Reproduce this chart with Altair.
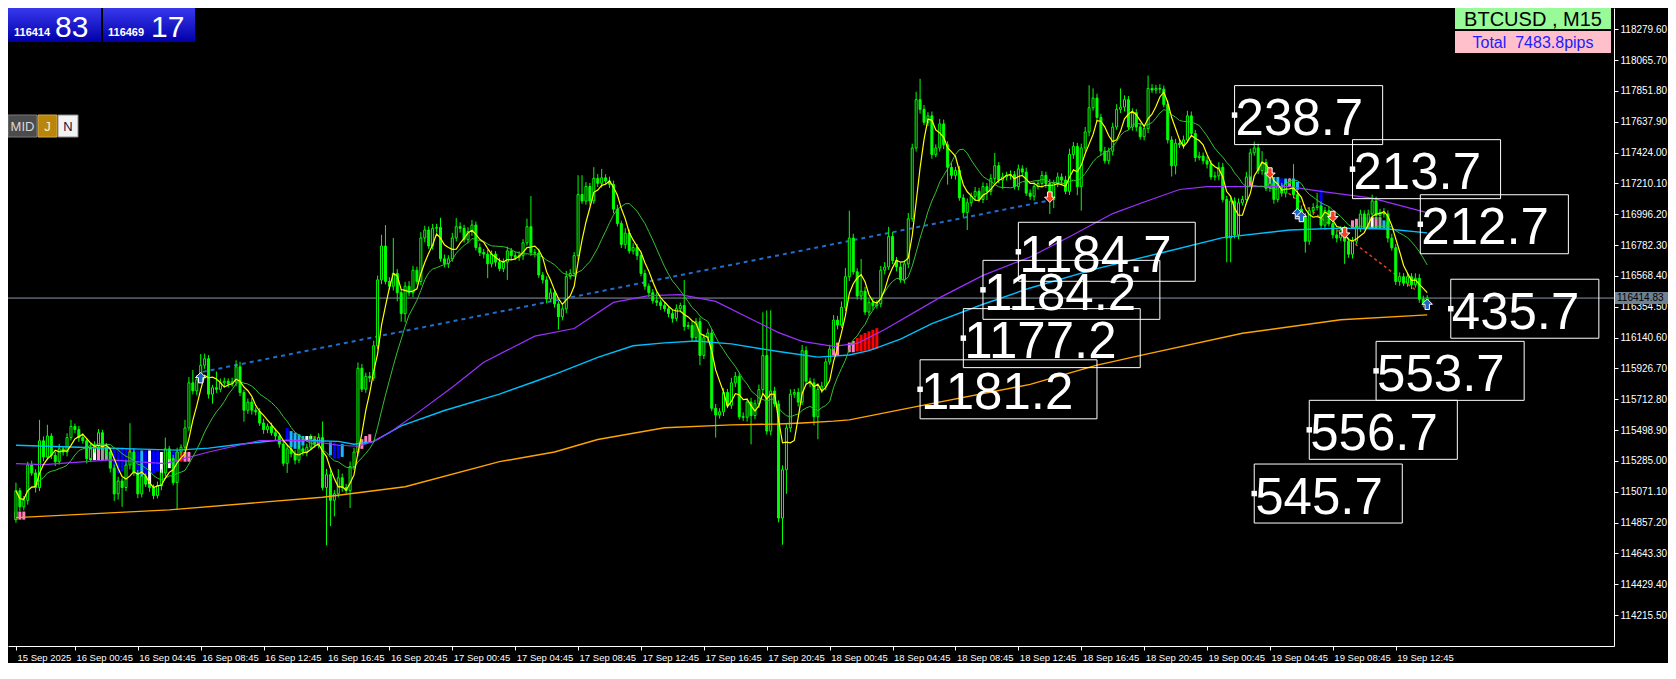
import altair as alt
import pandas as pd

# ---------------- data ----------------
first_open = 114878
closes = [
    115079,114967,115012,115257,115202,115101,115425,115313,115458,115324,115280,115369,115347,115447,115525,115503,115447,115425,115302,115369,
    115391,115481,115380,115347,115235,115057,115146,115101,115257,115347,115202,115057,115179,115124,115101,115045,115112,115202,115369,115302,
    115135,115347,115380,115514,115827,115771,115849,115949,115994,115748,115793,115782,115827,115838,115820,115833,115938,115760,115637,115693,
    115637,115626,115548,115503,115525,115481,115458,115402,115269,115369,115335,115291,115369,115347,115380,115436,115402,115447,115101,115190,
    115012,115057,115168,115101,115079,115246,115347,115928,115783,115872,115861,116084,116541,116776,116530,116497,116586,116452,116307,116497,
    116452,116608,116530,116832,116887,116776,116899,116905,116687,116653,116687,116832,116910,116899,116820,116876,116921,116765,116731,116720,
    116653,116720,116664,116620,116664,116742,116709,116698,116709,116798,116910,116731,116727,116575,116541,116408,116452,116374,116285,116340,
    116564,116586,116709,117133,117088,117189,117088,117245,117211,117249,117227,117204,117032,116932,116787,116865,116742,116765,116709,116586,
    116497,116452,116396,116385,116363,116341,116307,116274,116341,116363,116218,116225,116140,116251,116017,116140,116173,115650,115604,115626,
    115760,115671,115827,115872,115592,115588,115693,115600,115682,115780,116016,115492,115770,115680,114889,115224,115514,115748,115760,115693,
    116050,115838,115827,115592,115782,115804,115972,116061,116262,116228,116351,116563,116831,116597,116429,116463,116318,116385,116362,116375,
    116608,116630,116842,116675,116630,116541,116652,116965,117456,117791,117724,117634,117679,117411,117456,117623,117478,117322,117266,117300,
    117110,117009,117076,117121,117155,117099,117188,117155,117244,117333,117233,117255,117266,117271,117188,117311,117289,117143,117121,117188,
    117210,117266,117210,117099,117210,117255,117233,117155,117411,117467,117188,117456,117567,117735,117802,117668,117434,117367,117434,117601,
    117724,117739,117791,117601,117701,117601,117534,117590,117869,117858,117869,117864,117757,117512,117333,117489,117480,117512,117679,117556,
    117390,117400,117367,117344,117255,117262,117322,117099,116831,117088,116853,117076,117099,117255,117422,117456,117300,117355,117177,117210,
    117099,117188,117143,117210,117221,117132,117032,116976,116809,117021,117043,117054,116920,117021,116931,116853,116831,116887,116809,116719,
    116809,116898,116998,116920,116998,117088,116987,117009,116998,116831,116764,116530,116563,116518,116563,116507,116552,116407,116380,116414.83,
]
upper_wicks = [
    56,20,30,22,30,25,145,30,78,20,25,35,20,30,45,20,25,30,20,40,
    30,25,20,30,20,25,30,20,35,200,25,20,30,20,25,20,30,25,78,20,
    25,30,20,56,40,89,30,78,35,25,20,112,30,25,20,30,45,35,20,25,
    30,20,25,30,20,25,30,20,25,30,20,25,30,20,25,35,20,30,112,40,
    30,25,60,30,25,35,30,40,30,25,30,35,30,78,145,30,246,30,25,30,
    35,30,25,40,30,25,30,25,67,30,25,35,60,30,25,30,35,25,30,25,
    30,25,20,30,25,30,20,25,30,25,56,212,25,30,20,25,30,25,20,30,
    40,30,25,134,134,30,25,78,30,62,25,30,25,30,20,35,25,30,25,20,
    25,20,25,60,20,25,20,25,30,20,178,25,30,25,30,25,30,25,30,25,
    30,25,35,30,25,30,25,30,25,35,300,313,560,30,25,30,25,35,25,30,
    40,30,25,30,25,30,25,30,35,30,40,60,190,30,25,223,30,25,30,25,
    30,35,67,30,25,30,25,40,30,55,145,30,25,30,25,35,30,25,30,25,
    30,25,30,25,30,25,30,25,30,89,25,30,25,30,25,30,25,30,25,30,
    25,30,25,30,25,30,25,30,40,30,25,30,35,156,67,30,25,30,25,30,
    35,130,30,25,30,25,30,25,89,30,25,30,25,30,25,30,25,30,35,30,
    25,30,25,30,25,30,35,30,25,30,25,30,25,35,30,44,30,79,25,30,
    25,30,25,30,25,123,30,25,30,25,30,89,30,25,30,25,30,25,30,25,
    30,25,30,25,30,44,30,25,30,25,30,25,30,25,30,25,35,30,25,20,
]
lower_wicks = [
    22,30,25,30,20,35,25,30,20,25,30,20,25,30,20,25,30,20,35,25,
    25,30,20,25,30,50,40,134,25,30,20,30,25,20,30,25,20,30,25,30,
    20,190,25,30,20,25,30,20,25,30,66,25,20,30,25,20,30,25,80,25,
    30,25,20,30,25,20,30,25,20,67,25,30,20,25,30,20,25,30,20,401,
    179,112,25,30,20,120,25,30,20,25,30,20,25,30,20,25,30,60,56,60,
    25,30,20,25,30,20,25,30,20,25,30,20,25,30,20,25,30,20,25,30,
    100,25,30,20,25,123,30,20,25,30,20,25,30,20,25,30,20,25,89,25,
    30,20,25,30,20,25,30,20,25,30,20,25,30,20,25,30,20,25,30,20,
    25,30,20,25,30,20,25,30,20,25,30,20,25,30,67,25,30,20,157,25,
    30,20,25,30,20,25,30,200,25,30,20,25,30,20,30,185,167,30,25,30,
    20,25,30,60,156,25,30,20,25,30,20,25,30,20,25,30,20,25,30,20,
    25,30,20,25,30,20,25,30,20,25,30,20,25,30,20,25,30,120,25,30,
    20,33,122,25,30,20,25,60,25,30,20,60,25,30,20,25,30,20,25,30,
    20,25,30,101,60,25,30,20,25,30,60,167,25,30,20,25,30,20,25,30,
    20,25,30,20,25,30,20,25,30,20,25,30,20,25,75,60,25,30,20,25,
    30,20,25,30,20,25,30,20,168,168,25,30,20,25,30,20,25,30,20,25,
    30,20,25,30,20,25,30,20,79,25,30,20,25,30,20,25,30,20,157,25,
    30,20,25,30,20,25,30,20,25,30,20,25,30,20,25,30,20,25,30,25,
]

orange_bars = [0,39,78,99,123,137,148,165,182,194,200,208,212,229,258,275,287,312,337,359]
orange_vals = [114892,114946,115033,115106,115280,115347,115434,115515,115535,115541,115548,115561,115570,115662,115816,115950,116023,116171,116264,116298]
cyan_bars = [0,16,32,41,49,57,66,74,82,86,91,98,109,123,132,138,148,157,165,173,182,194,204,212,217,225,233,246,258,275,292,307,324,337,349,359]
cyan_vals = [115394,115380,115367,115360,115374,115401,115427,115427,115421,115401,115421,115528,115635,115749,115836,115896,116003,116084,116104,116117,116097,116044,116005,116020,116050,116130,116238,116372,116485,116619,116733,116834,116887,116900,116894,116867]
purple_bars = [0,7,24,38,49,62,74,82,87,91,95,102,111,119,132,142,152,161,169,178,187,194,200,208,214,221,235,246,258,268,279,287,296,303,324,332,345,357,359]
purple_vals = [115267,115260,115293,115267,115347,115427,115427,115394,115387,115421,115481,115615,115796,115970,116151,116204,116385,116432,116439,116392,116270,116175,116115,116080,116100,116197,116418,116572,116700,116840,117001,117081,117168,117188,117188,117155,117108,117021,117008]

hist_bars = [0,1,2, 19,20,21,22,23, 24,25,26,27,28,29,30, 31,32,33,34,35,36, 37,38,39,40, 41,42,43,44,
             69,70,71,72,73,74, 75,76,77, 80,81,82,83, 87,88,89,90, 208,209,
             212,213,214,215,216,217,218,219, 314, 318,319,320,321,322,323,324,325,326, 332,
             340,341,342,343,344,345,346,347,348,349]
hist_tops = [114934,114934,114934, 115380,115380,115380,115380,115380,
             115380,115380,115380,115380,115369,115369,115369,
             115358,115358,115358,115358,115358,115358, 115347,115347,115347,115347, 115347,115347,115347,115347,
             115514,115492,115481,115470,115458,115458, 115458,115458,115447, 115414,115414,115402,115402,
             115425,115436,115458,115470, 116083,116106,
             116106,116117,116139,116161,116173,116184,116195,116206, 117266,
             117277,117266,117255,117255,117244,117244,117244,117244,117221, 117166,
             116954,116965,116976,116976,116976,116976,116976,116976,116954,116943]
hist_bots = [114878,114878,114878, 115291,115291,115291,115291,115291,
             115302,115235,115202,115213,115257,115280,115280,
             115179,115168,115190,115124,115202,115213, 115190,115257,115235,115257, 115280,115280,115280,115280,
             115425,115380,115369,115369,115391,115425, 115436,115425,115425, 115324,115302,115302,115313,
             115336,115369,115402,115414, 116016,116016,
             116039,116039,116045,116045,116050,116050,116055,116061, 117188,
             117177,117188,117166,117177,117188,117188,117188,117177,117166, 117021,
             116898,116898,116898,116898,116898,116898,116898,116898,116898,116898]
hist_kinds = ['pink','pink','pink', 'pink','white','pink','grey','grey',
              'blue','blue','blue','blue','blue','red','blue',
              'blue','cyan','blue','white','blue','blue', 'white','red','white','blue', 'pink','red','pink','pink',
              'blue','cyan','cyan','cyan','cyan','white', 'white','red','white', 'cyan','blue','blue','cyan',
              'red','pink','pink','pink', 'pink','pink',
              'pink','pink','red','red','red','red','red','red', 'pink',
              'cyan','grey','cyan','cyan','blue','cyan','pink','cyan','cyan', 'blue',
              'pink','pink','grey','grey','grey','white','pink','grey','cyan','cyan']

up_arrow_bars = [47, 326, 327, 359]
up_arrow_prices = [115863, 117001, 116981, 116372]
down_arrow_bars = [263, 319, 335, 338]
down_arrow_prices = [117115, 117282, 116981, 116867]

blue_trend_bars = [47.5, 262.5]
blue_trend_prices = [115903, 117090]
red_trend_bars = [322.5, 356]
red_trend_prices = [117168, 116472]

box_texts = ["238.7", "213.7", "212.7", "435.7", "553.7", "556.7", "545.7",
             "1184.7", "1184.2", "1177.2", "1181.2"]
box_bars = [310, 340, 357.25, 365, 346, 329, 315, 255, 246, 241, 230]
box_prices = [117684, 117309, 116927, 116341, 115910, 115501, 115059,
              116736, 116472, 116137, 115782]

current_price = 116414.83
current_price_text = "116414.83"

x_tick_labels = ["15 Sep 2025", "16 Sep 00:45", "16 Sep 04:45", "16 Sep 08:45", "16 Sep 12:45",
                 "16 Sep 16:45", "16 Sep 20:45", "17 Sep 00:45", "17 Sep 04:45", "17 Sep 08:45",
                 "17 Sep 12:45", "17 Sep 16:45", "17 Sep 20:45", "18 Sep 00:45", "18 Sep 04:45",
                 "18 Sep 08:45", "18 Sep 12:45", "18 Sep 16:45", "18 Sep 20:45", "19 Sep 00:45",
                 "19 Sep 04:45", "19 Sep 08:45", "19 Sep 12:45"]
x_tick_bars = [0, 15, 31, 47, 63, 79, 95, 111, 127, 143, 159, 175, 191, 207, 223,
               239, 255, 271, 287, 303, 319, 335, 351]
y_tick_labels = ["118279.60", "118065.70", "117851.80", "117637.90", "117424.00", "117210.10",
                 "116996.20", "116782.30", "116568.40", "116354.50", "116140.60", "115926.70",
                 "115712.80", "115498.90", "115285.00", "115071.10", "114857.20", "114643.30",
                 "114429.40", "114215.50"]

symbol_text = "BTCUSD , M15"
total_text = "Total\u00a0 7483.8pips"
bid_small, bid_big = "116414", "83"
ask_small, ask_big = "116469", "17"
button_texts = ["MID", "J", "N"]

# ---------------- layout / style ----------------
W, H = 1606, 638
RPAD = 54
X_DOM = [-0.75, 405.25]
Y_DOM = [114001.5, 118426.9]
PXB = W / (X_DOM[1] - X_DOM[0])
PPP = (Y_DOM[1] - Y_DOM[0]) / H

AXF = "Liberation Sans, Arial, sans-serif"
BIG = "Liberation Sans, Arial, sans-serif"
SANS = "Liberation Sans, Arial, sans-serif"
LIME = "#00ff00"
HIST_COLORS = {"pink": "#ff80c0", "blue": "#0000ff", "cyan": "#1eb4ff",
               "white": "#ffffff", "grey": "#a0a0a0", "red": "#ff0000"}

xs = alt.Scale(domain=X_DOM, nice=False, zero=False)
ys = alt.Scale(domain=Y_DOM, nice=False, zero=False)
label_js = "[" + ",".join("'%s'" % s for s in x_tick_labels) + "]"
xa = alt.Axis(values=x_tick_bars,
              labelExpr=label_js + "[datum.value < 1 ? 0 : (datum.value + 1) / 16]",
              labelAlign="left", labelOffset=1, labelPadding=2, labelColor="white",
              labelFont=AXF, labelFontSize=9.5, labelFlush=False, labelOverlap=False,
              labelBound=False, tickColor="white", tickSize=4, domainColor="white",
              grid=False, title=None)
ya = alt.Axis(orient="right", values=[float(v) for v in y_tick_labels], format=".2f",
              labelColor="white", labelFont=AXF, labelFontSize=10, labelPadding=2,
              labelFlush=False, labelOverlap=False, labelBaseline="middle",
              tickColor="white", tickSize=4, domainColor="white", grid=False, title=None)


def X(f):
    return alt.X(f, type="quantitative", scale=xs, axis=xa)


def Y(f):
    return alt.Y(f, type="quantitative", scale=ys, axis=ya)


n = len(closes)
opens = [first_open] + closes[:-1]
cdf = pd.DataFrame({"i": list(range(n)), "open": opens, "close": closes,
                    "uw": upper_wicks, "lw": lower_wicks})
cdf["top"] = cdf[["open", "close"]].max(axis=1)
cdf["bot"] = cdf[["open", "close"]].min(axis=1)
cdf["high"] = cdf["top"] + cdf["uw"]
cdf["low"] = cdf["bot"] - cdf["lw"]
cdf["up"] = cdf["close"] >= cdf["open"]

hdf = pd.DataFrame({"i": hist_bars, "top": hist_tops, "bot": hist_bots,
                    "col": [HIST_COLORS[k] for k in hist_kinds]})

layers = []
# histogram
layers.append(alt.Chart(hdf).mark_bar(size=3).encode(
    x=X("i"), y=Y("top"), y2=alt.Y2("bot"), color=alt.Color("col:N", scale=None, legend=None)))
# current price line
layers.append(alt.Chart(pd.DataFrame({"p": [current_price]})).mark_rule(
    color="#8896a6", strokeWidth=1).encode(y=Y("p"), x=alt.value(0), x2=alt.value(W)))
# trend lines
layers.append(alt.Chart(pd.DataFrame({"i": blue_trend_bars, "p": blue_trend_prices})).mark_line(
    color="#1f6fd0", strokeWidth=2, strokeDash=[4, 4]).encode(x=X("i"), y=Y("p")))
layers.append(alt.Chart(pd.DataFrame({"i": red_trend_bars, "p": red_trend_prices})).mark_line(
    color="#e0401e", strokeWidth=1.5, strokeDash=[3, 3]).encode(x=X("i"), y=Y("p")))
# candles
layers.append(alt.Chart(cdf).mark_rule(color=LIME, strokeWidth=1).encode(
    x=X("i"), y=Y("low"), y2=alt.Y2("high")))
layers.append(alt.Chart(cdf).mark_bar(size=2, stroke=LIME, strokeWidth=1).encode(
    x=X("i"), y=Y("bot"), y2=alt.Y2("top"),
    fill=alt.condition("datum.up", alt.value("#000000"), alt.value(LIME))))
# moving averages
for bars, vals, col, sw in [(orange_bars, orange_vals, "#ffa500", 1.4),
                            (cyan_bars, cyan_vals, "#00bfff", 1.4),
                            (purple_bars, purple_vals, "#9b30ff", 1.2)]:
    layers.append(alt.Chart(pd.DataFrame({"i": bars, "p": vals})).mark_line(
        color=col, strokeWidth=sw, clip=True).encode(x=X("i"), y=Y("p")))
layers.append(alt.Chart(cdf).transform_window(
    ma="mean(close)", frame=[-13, 0], sort=[alt.SortField("i")]).mark_line(
    color="#34c034", strokeWidth=1).encode(x=X("i"), y=Y("ma")))
layers.append(alt.Chart(cdf).transform_window(
    ma="mean(close)", frame=[-4, 0], sort=[alt.SortField("i")]).mark_line(
    color="#ffff00", strokeWidth=1.2).encode(x=X("i"), y=Y("ma")))
# arrows
UP = "M0,-1L1,0L0.42,0L0.42,1L-0.42,1L-0.42,0L-1,0Z"
DN = "M0,1L1,0L0.42,0L0.42,-1L-0.42,-1L-0.42,0L-1,0Z"
layers.append(alt.Chart(pd.DataFrame({"i": up_arrow_bars, "p": up_arrow_prices})).mark_point(
    shape=UP, filled=True, fill="#1c64c8", stroke="white", strokeWidth=1, size=110, opacity=1).encode(
    x=X("i"), y=Y("p")))
layers.append(alt.Chart(pd.DataFrame({"i": down_arrow_bars, "p": down_arrow_prices})).mark_point(
    shape=DN, filled=True, fill="#ff3c1e", stroke="white", strokeWidth=1, size=110, opacity=1).encode(
    x=X("i"), y=Y("p")))
# big value labels
lab = pd.DataFrame({"t": box_texts, "i": box_bars, "p": box_prices})
lab["w"] = lab["t"].str.len().map({5: 149, 6: 178})
lab["i2"] = lab["i"] + lab["w"] / PXB
lab["ptop"] = lab["p"] + 29.5 * PPP
lab["pbot"] = lab["p"] - 29.5 * PPP
layers.append(alt.Chart(lab).mark_rect(fillOpacity=0, stroke="white", strokeWidth=1).encode(
    x=X("i"), x2=alt.X2("i2"), y=Y("ptop"), y2=alt.Y2("pbot")))
layers.append(alt.Chart(lab).mark_square(size=30, color="white", opacity=1).encode(x=X("i"), y=Y("p")))
layers.append(alt.Chart(lab).mark_text(align="left", baseline="alphabetic", dx=1, dy=20,
                                       fontSize=51, font=BIG, color="white").encode(
    x=X("i"), y=Y("p"), text="t:N"))
# current price tag on the axis
tag = pd.DataFrame({"p": [current_price], "pt": [current_price + 6 * PPP],
                    "pb": [current_price - 6 * PPP], "t": [current_price_text]})
layers.append(alt.Chart(tag).mark_rect(color="#6f8090").encode(
    x=alt.value(W + 1), x2=alt.value(W + RPAD), y=Y("pt"), y2=alt.Y2("pb")))
layers.append(alt.Chart(tag).mark_text(align="left", baseline="middle", fontSize=10, font=AXF,
                                       color="#000000").encode(x=alt.value(W + 3), y=Y("p"), text="t:N"))

# ---------------- panel widgets (pixel placed) ----------------
ONE = pd.DataFrame({"k": [0]})


def prect(x1, x2, y1, y2, **kw):
    return alt.Chart(ONE).mark_rect(**kw).encode(
        x=alt.value(x1), x2=alt.value(x2), y=alt.value(y1), y2=alt.value(y2))


def ptext(t, x, y, size, color, font=SANS, weight="normal", align="left"):
    return alt.Chart(ONE).mark_text(text=t, align=align, baseline="alphabetic", fontSize=size,
                                    font=font, fontWeight=weight, color=color).encode(
        x=alt.value(x), y=alt.value(y))


blue_grad = {"gradient": "linear", "x1": 0, "y1": 0, "x2": 0, "y2": 1,
             "stops": [{"offset": 0, "color": "#3838ee"}, {"offset": 1, "color": "#0000a8"}]}
layers += [
    prect(0, 93, 0, 34, fill=blue_grad),
    prect(95, 187, 0, 34, fill=blue_grad),
    ptext(bid_small, 6, 28, 11, "white", weight="bold"),
    ptext(bid_big, 47, 29, 30, "white"),
    ptext(ask_small, 100, 28, 11, "white", weight="bold"),
    ptext(ask_big, 143, 29, 30, "white"),
    prect(0, 29, 107, 129, fill="#4c4c4c", stroke="#7a7a7a", strokeWidth=1),
    prect(30, 49, 107, 129, fill="#b8860b", stroke="#d4a84a", strokeWidth=1),
    prect(50, 70, 107, 129, fill="#f2f2f2", stroke="#8a8a8a", strokeWidth=1),
    ptext(button_texts[0], 14.5, 123, 13, "#d8d8d8", align="center"),
    ptext(button_texts[1], 39.5, 123, 13, "#fff2d0", align="center"),
    ptext(button_texts[2], 60, 123, 13, "#101040", align="center"),
    prect(W - 159, W - 3, 0, 21, fill="#98fb98"),
    prect(W - 159, W - 3, 23, 45, fill="#ffc0cb"),
    ptext(symbol_text, W - 81, 17.5, 20, "#000000", align="center"),
    ptext(total_text, W - 81, 40, 16, "#2020ff", align="center"),
]

chart = alt.layer(*layers).properties(
    width=W, height=H, background="#000000",
    padding={"left": 0, "top": 0, "right": RPAD, "bottom": 17},
    autosize=alt.AutoSizeParams(type="none"),
).configure_view(stroke=None)

chart.save("out.html", embed_options={"renderer": "svg", "actions": False})
